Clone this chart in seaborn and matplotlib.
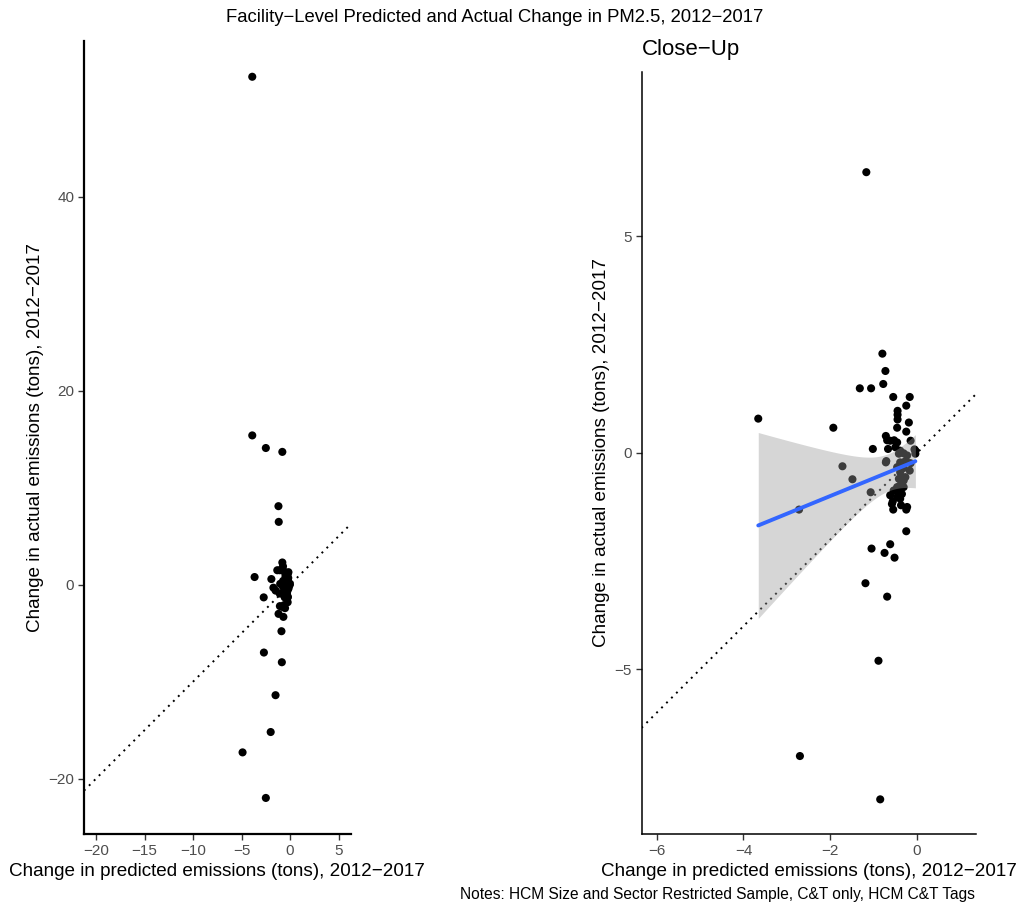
import numpy as np
import pandas as pd
import matplotlib
matplotlib.use("Agg")
import matplotlib.pyplot as plt
import seaborn as sns

# Facility-level change in predicted vs. actual PM2.5 emissions (tons), 2012-2017
pred_change = [
    -3.9, -3.9, -2.5, -0.8, -1.2, -4.9, -2.5, -2.0, -1.5,
    -1.17, -0.80, -0.73, -0.78, -1.32, -1.06, -0.55, -0.17, -0.25, -0.45,
    -0.45, -0.45, -0.19, -0.46, -0.25, -3.66, -1.93, -0.72, -0.69, -0.53,
    -1.02, -0.67, -0.50, -0.15, -0.06, -0.04, -1.72, -1.49, -1.07, -2.72,
    -0.72, -0.42, -0.31, -0.23, -0.39, -0.27, -0.15, -0.46, -0.31, -0.17,
    -0.39, -0.27, -0.42, -0.31, -0.39, -0.46, -0.31, -0.54, -0.42, -0.35,
    -0.62, -0.46, -0.56, -0.39, -0.58, -0.37, -0.23, -0.55, -0.25, -0.25,
    -1.05, -0.62, -0.75, -0.52, -1.19, -0.69, -0.89, -2.70, -0.85, -0.62,
    -0.46, -0.71, -0.39, -0.04,
]
actual_change = [
    52.4, 15.4, 14.1, 13.7, 8.1, -17.3, -22.0, -15.2, -11.4,
    6.48, 2.29, 1.89, 1.59, 1.49, 1.49, 1.29, 1.29, 1.09, 0.97,
    0.88, 0.77, 0.70, 0.58, 0.49, 0.79, 0.58, 0.39, 0.29, 0.29,
    0.09, 0.09, 0.13, 0.28, 0.08, -0.02, -0.31, -0.61, -0.91, -1.31,
    -0.22, -0.02, -0.01, -0.06, -0.22, -0.19, -0.24, -0.33, -0.35, -0.41,
    -0.45, -0.56, -0.60, -0.64, -0.75, -0.79, -0.79, -0.87, -0.91, -0.95,
    -0.98, -1.02, -1.12, -1.06, -1.18, -1.21, -1.25, -1.31, -1.31, -1.81,
    -2.21, -2.11, -2.31, -2.42, -3.01, -3.32, -4.80, -7.00, -8.00, 0.28,
    0.24, -0.19, 0.05, 0.05,
]

x_ticks_full = [-20, -15, -10, -5, 0, 5]
y_ticks_full = [-20, 0, 20, 40]
x_ticks_zoom = [-6, -4, -2, 0]
y_ticks_zoom = [-5, 0, 5]
zoom_xlim = (-6, 1)
zoom_ylim = (-8, 8)
full_xlim = (-20, 5)

df = pd.DataFrame({"pred": pred_change, "actual": actual_change})

sns.set_theme(style="ticks")
plt.rcParams["font.family"] = ["Liberation Sans", "DejaVu Sans"]
plt.rcParams["axes.unicode_minus"] = True

fig = plt.figure(figsize=(10.21, 9.06), dpi=100)
W, H = 1021, 906


def axes_px(x0, y0, x1, y1):
    return fig.add_axes([x0 / W, 1 - y1 / H, (x1 - x0) / W, (y1 - y0) / H])


def expand(lo, hi, frac=0.05):
    pad = (hi - lo) * frac
    return lo - pad, hi + pad


def style_axes(ax, lw):
    for side in ("top", "right"):
        ax.spines[side].set_visible(False)
    for side in ("left", "bottom"):
        ax.spines[side].set_linewidth(lw)
        ax.spines[side].set_color("black")
    ax.tick_params(axis="both", length=4, width=1, color="#333333",
                   labelcolor="#4D4D4D", labelsize=11, pad=3)
    ax.grid(False)
    ax.set_facecolor("white")


def minus(v):
    return str(v).replace("-", "\u2212")


xlabel = "Change in predicted emissions (tons), 2012\u22122017"
ylabel = "Change in actual emissions (tons), 2012\u22122017"
point_kw = dict(color="black", s=34, edgecolor="none", linewidth=0, zorder=2)
dot_style = dict(color="black", linestyle=(0, (1, 2.6)), linewidth=1.4, zorder=3)
label_size = 13.6

# ---- full sample panel ----
ax1 = axes_px(84, 40.7, 350.7, 834)
sns.scatterplot(data=df, x="pred", y="actual", ax=ax1, **point_kw)
ax1.set_xlim(*expand(*full_xlim))
ax1.set_ylim(*expand(df["actual"].min(), df["actual"].max()))
ax1.axline((0, 0), slope=1, **dot_style)
ax1.set_xticks(x_ticks_full)
ax1.set_xticklabels([minus(v) for v in x_ticks_full])
ax1.set_yticks(y_ticks_full)
ax1.set_yticklabels([minus(v) for v in y_ticks_full])
style_axes(ax1, 1.6)
ax1.set_xlabel(xlabel, fontsize=label_size, color="black", labelpad=4)
ax1.set_ylabel(ylabel, fontsize=label_size, color="black", labelpad=3)

# ---- close-up panel: rows inside the zoom limits only ----
sub = df[df["pred"].between(*zoom_xlim) & df["actual"].between(*zoom_ylim)]
ax2 = axes_px(641.5, 71.7, 975.7, 834)
sns.scatterplot(data=sub, x="pred", y="actual", ax=ax2, **point_kw)
ax2.set_xlim(*expand(*zoom_xlim))
ax2.set_ylim(*expand(*zoom_ylim))
ax2.axline((0, 0), slope=1, **dot_style)

# linear fit with 95% confidence band
xv = sub["pred"].to_numpy()
yv = sub["actual"].to_numpy()
n = len(xv)
slope, intercept = np.polyfit(xv, yv, 1)
resid = yv - (intercept + slope * xv)
s_err = np.sqrt(np.sum(resid ** 2) / (n - 2))
xbar = xv.mean()
sxx = np.sum((xv - xbar) ** 2)
grid = np.linspace(xv.min(), xv.max(), 80)
fit = intercept + slope * grid
se = s_err * np.sqrt(1 / n + (grid - xbar) ** 2 / sxx)
z = 1.959964
dfree = n - 2
tq = z + (z ** 3 + z) / (4 * dfree) + (5 * z ** 5 + 16 * z ** 3 + 3 * z) / (96 * dfree ** 2)
ax2.fill_between(grid, fit - tq * se, fit + tq * se, color="#999999",
                 alpha=0.4, linewidth=0, zorder=4)
sns.lineplot(x=grid, y=fit, ax=ax2, color="#3366FF", linewidth=2.8, zorder=5)

ax2.set_xticks(x_ticks_zoom)
ax2.set_xticklabels([minus(v) for v in x_ticks_zoom])
ax2.set_yticks(y_ticks_zoom)
ax2.set_yticklabels([minus(v) for v in y_ticks_zoom])
style_axes(ax2, 1.1)
ax2.set_xlabel(xlabel, fontsize=label_size, color="black", labelpad=4)
ax2.set_ylabel(ylabel, fontsize=label_size, color="black", labelpad=3)
ax2.set_title("Close\u2212Up", loc="left", fontsize=16, color="black", pad=12)

fig.text(495 / W, 1 - 18 / H,
         "Facility\u2212Level Predicted and Actual Change in PM2.5, 2012\u22122017",
         ha="center", va="center", fontsize=13.3, color="black")
fig.text(975 / W, 1 - 895 / H,
         "Notes: HCM Size and Sector Restricted Sample, C&T only, HCM C&T Tags",
         ha="right", va="center", fontsize=11.2, color="black")

fig.savefig("out.png", dpi=100, facecolor="white")
